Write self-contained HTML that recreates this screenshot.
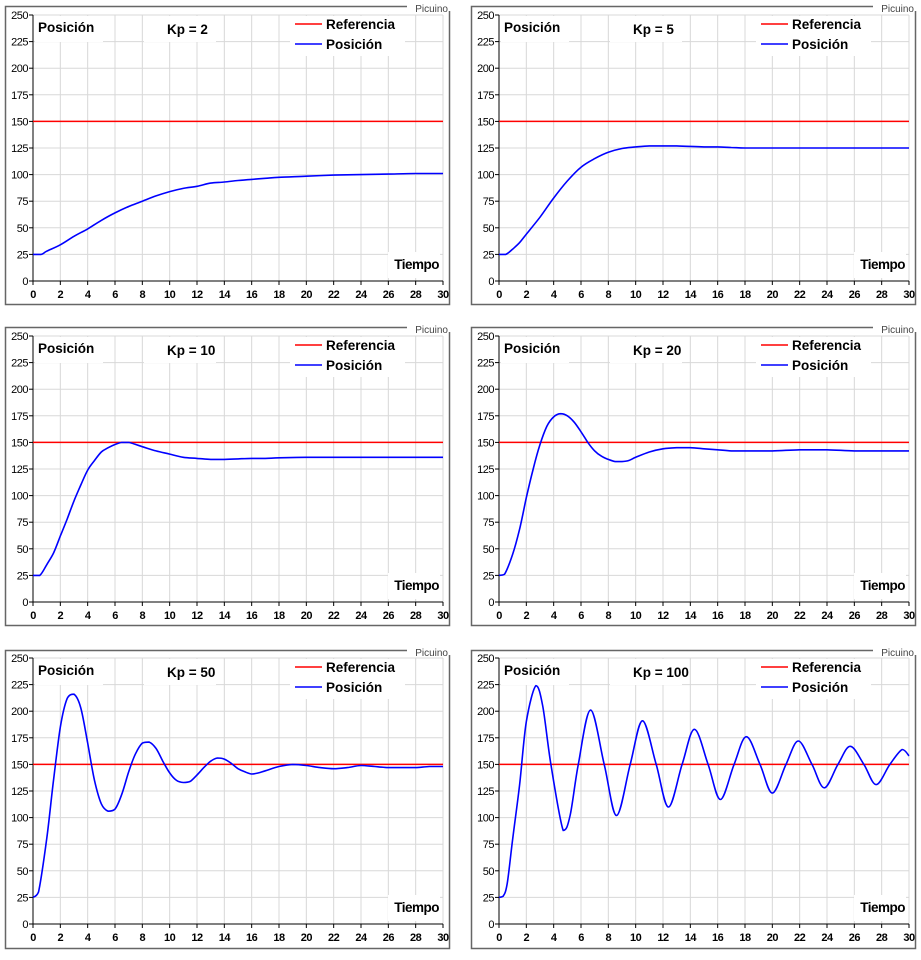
<!DOCTYPE html>
<html><head><meta charset="utf-8">
<style>
html,body{margin:0;padding:0;background:#fff;}
svg text{font-family:"Liberation Sans",Arial,sans-serif;}
</style></head>
<body>
<svg id="root" width="921" height="955" viewBox="0 0 921 955" xmlns="http://www.w3.org/2000/svg"></svg>
<script>
// ---- data ----
const referenceValue = 150;
const xTicks = [0,2,4,6,8,10,12,14,16,18,20,22,24,26,28,30];
const yTicks = [0,25,50,75,100,125,150,175,200,225,250];
const kpLabels = ["Kp = 2","Kp = 5","Kp = 10","Kp = 20","Kp = 50","Kp = 100"];

const t2 = [0,0.6,1,2,3,4,5,6,7,8,9,10,11,12,13,14,15,16,17,18,20,22,24,26,28,30];
const v2 = [25,25,28,34,42,49,57,64,70,75,80,84,87,89,92,93,94.5,95.5,96.5,97.5,98.5,99.5,100,100.5,101,101];

const t5 = [0,0.5,1,1.5,2,3,4,5,6,7,8,9,10,11,12,13,14,15,16,17,18,20,22,24,26,28,30];
const v5 = [25,25,30,36,44,60,78,94,107,115,121,124.5,126,127,127,127,126.5,126,126,125.5,125,125,125,125,125,125,125];

const t10 = [0,0.5,1,1.5,2,2.5,3,3.5,4,4.5,5,5.5,6,6.5,7,8,9,10,11,12,13,14,15,16,17,18,20,22,24,26,28,30];
const v10 = [25,25,35,46,62,78,95,110,124,133,141,145,148,150,150,146,142,139,136,135,134,134,134.5,135,135,135.5,136,136,136,136,136,136];

const t20 = [0,0.4,1,1.5,2,2.5,3,3.5,4,4.5,5,5.5,6,6.5,7,7.5,8,8.5,9,9.5,10,11,12,13,14,15,16,17,18,20,22,24,26,28,30];
const v20 = [25,26,45,68,98,125,148,165,174,177,175,169,160,150,142,137,134,132,132,133,136,141,144,145,145,144,143,142,142,142,143,143,142,142,142];

const t50 = [0,0.4,1,1.5,2,2.5,3,3.5,4,4.5,5,5.5,6,6.5,7,7.5,8,8.5,9,9.5,10,10.5,11,11.5,12,12.5,13,13.5,14,14.5,15,15.5,16,16.5,17,18,19,20,21,22,23,24,25,26,27,28,29,30];
const v50 = [25,30,80,135,185,212,216,203,170,135,113,106,108,122,143,160,170,171,165,153,142,135,133,134,140,147,153,156,155,151,146,143,141,142,144,148,150,149,147,146,147,149,148,147,147,147,148,148];

const t100 = [0,0.3,0.6,1,1.5,2,2.7,3.2,3.8,4.7,5.2,5.8,6.7,7.7,8.6,9.6,10.5,11.5,12.4,13.4,14.3,15.3,16.2,17.2,18.1,19.1,20,21,21.9,22.9,23.8,24.8,25.7,26.7,27.6,28.6,29.5,30];
const v100 = [25,26,38,80,130,190,224,205,150,88,102,150,201,150,102,150,191,150,110,150,183,150,117,150,176,150,123,150,172,150,128,150,167,150,131,150,164,158];

const seriesTimes = [t2,t5,t10,t20,t50,t100];
const seriesValues = [v2,v5,v10,v20,v50,v100];

// ---- layout ----
const panelLeft = [5,471];
const panelTop = [6,327,650];
const plotLeftOff = 28, plotW = 410;
const plotTopArr = [15,336,658], plotH = 266;
const NS = "http://www.w3.org/2000/svg";
const root = document.getElementById('root');
function mk(tag, attrs, parent){ const e=document.createElementNS(NS,tag); for(const k in attrs) e.setAttribute(k,attrs[k]); (parent||root).appendChild(e); return e; }
function clamp(v,a,b){ const lo=Math.min(a,b),hi=Math.max(a,b); return Math.max(lo,Math.min(hi,v)); }

for(let i=0;i<6;i++){
  const col=i%2,row=Math.floor(i/2);
  const px=panelLeft[col], py=panelTop[row];
  const x0=px+plotLeftOff, y0=plotTopArr[row];
  const sx=v=>x0+v/30*plotW;
  const sy=v=>y0+plotH-v/250*plotH;
  const g=mk('g',{});
  
  
  const border=mk('rect',{x:px+0.5,y:py+0.5,width:444,height:298,fill:'#fff',stroke:'#666','stroke-width':1.5},g);
  
  
  for(const t of xTicks){ if(t===0) continue; const l=mk('line',{x1:sx(t),x2:sx(t),y1:y0,y2:y0+plotH,stroke:'#d8d8d8','stroke-width':1},g);
      }
  for(const v of yTicks){ if(v===0) continue; const l=mk('line',{x1:x0,x2:x0+plotW,y1:sy(v),y2:sy(v),stroke:'#d8d8d8','stroke-width':1},g);
      }
  mk('rect',{x:x0+2,y:y0+1,width:68,height:26,fill:'#fff'},g);
  mk('rect',{x:x0+111,y:y0+1,width:72,height:26,fill:'#fff'},g);
  mk('rect',{x:x0+257,y:y0+1,width:115,height:40,fill:'#fff'},g);
  mk('rect',{x:x0+355,y:y0+237,width:52,height:26,fill:'#fff'},g);
  const ax=mk('line',{x1:x0,x2:x0,y1:y0,y2:y0+plotH,stroke:'#000','stroke-width':1},g);
   
  const axx=mk('line',{x1:x0,x2:x0+plotW,y1:y0+plotH,y2:y0+plotH,stroke:'#000','stroke-width':1},g);
   
  for(const v of yTicks){
    mk('line',{x1:x0-4,x2:x0,y1:sy(v),y2:sy(v),stroke:'#000'},g);
    const tx=mk('text',{x:x0-5,y:sy(v)+4,'font-size':11,'text-anchor':'end','letter-spacing':'-0.5'},g);
    tx.textContent=v;
     
  }
  for(const t of xTicks){
    mk('line',{x1:sx(t),x2:sx(t),y1:y0+plotH,y2:y0+plotH+4,stroke:'#000'},g);
    const tx=mk('text',{x:sx(t),y:y0+plotH+17,'font-size':11,'font-weight':'bold','text-anchor':'middle','letter-spacing':'-0.5'},g);
    tx.textContent=t;
     
  }
  const ref=mk('line',{x1:x0,x2:x0+plotW,y1:sy(referenceValue),y2:sy(referenceValue),stroke:'#ff0000','stroke-width':1.5},g);
   
  const T=seriesTimes[i],V=seriesValues[i];
  const P=T.map((t,k)=>[sx(t),sy(V[k])]);
  let d='M'+P[0][0].toFixed(1)+' '+P[0][1].toFixed(1);
  for(let k=0;k<P.length-1;k++){
    const p0=P[Math.max(0,k-1)],p1=P[k],p2=P[k+1],p3=P[Math.min(P.length-1,k+2)];
    const c1=[p1[0]+(p2[0]-p0[0])/6,clamp(p1[1]+(p2[1]-p0[1])/6,p1[1],p2[1])];
    const c2=[p2[0]-(p3[0]-p1[0])/6,clamp(p2[1]-(p3[1]-p1[1])/6,p1[1],p2[1])];
    d+=' C'+c1[0].toFixed(1)+' '+c1[1].toFixed(1)+' '+c2[0].toFixed(1)+' '+c2[1].toFixed(1)+' '+p2[0].toFixed(1)+' '+p2[1].toFixed(1);
  }
  const path=mk('path',{d:d,fill:'none',stroke:'#0000ff','stroke-width':1.6},g);
   
  const yl=mk('text',{x:x0+5,y:y0+17,'font-size':13.5,'font-weight':'bold'},g);
  yl.textContent='Posición';
   
  const kp=mk('text',{x:x0+134,y:y0+19,'font-size':13.5,'font-weight':'bold'},g);
  kp.textContent=kpLabels[i];
   
  const xl=mk('text',{x:x0+406,y:y0+254,'font-size':13.5,'font-weight':'bold','text-anchor':'end','letter-spacing':'-0.5'},g);
  xl.textContent='Tiempo';
   
  const lg=mk('g',{},g);
   
  mk('line',{x1:x0+262,x2:x0+289,y1:y0+9,y2:y0+9,stroke:'#ff0000','stroke-width':1.5},lg);
  const l1=mk('text',{x:x0+293,y:y0+14,'font-size':13.5,'font-weight':'bold'},lg);
  l1.textContent='Referencia';
   
  mk('line',{x1:x0+262,x2:x0+289,y1:y0+29,y2:y0+29,stroke:'#0000ff','stroke-width':1.5},lg);
  const l2=mk('text',{x:x0+293,y:y0+34,'font-size':13.5,'font-weight':'bold'},lg);
  l2.textContent='Posición';
   
  mk('rect',{x:px+402,y:py-3,width:44,height:8,fill:'#fff'},g);
  const wm=mk('text',{x:px+443,y:py+6,'font-size':10,'text-anchor':'end',fill:'#444'},g);
  wm.textContent='Picuino';
   
}
</script>
</body></html>
